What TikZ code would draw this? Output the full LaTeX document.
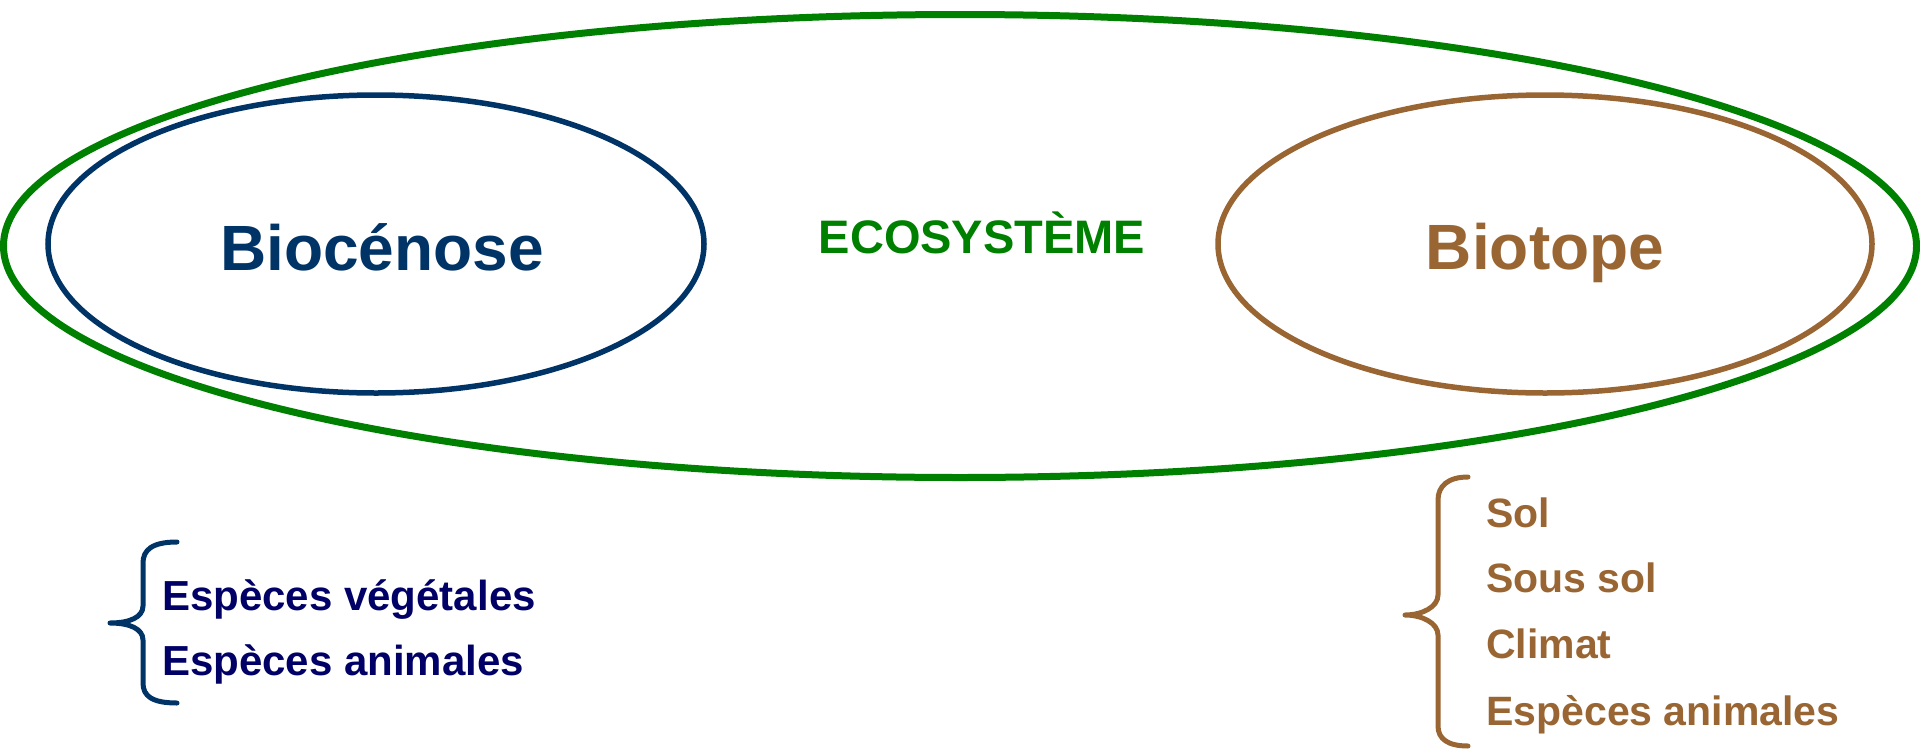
\documentclass[tikz,border=0pt]{standalone}
\usepackage{fontspec}
\setmainfont{Liberation Sans}
\usetikzlibrary{shapes.geometric}
\definecolor{ecogreen}{HTML}{008000}
\definecolor{bioblue}{HTML}{003366}
\definecolor{itemblue}{HTML}{000066}
\definecolor{biobrown}{HTML}{996633}

\begin{document}
\begin{tikzpicture}
      [x=1pt, y=-1pt,
       ring/.style={ellipse, draw, inner sep=0pt},
       title/.style={font=\bfseries\fontsize{64}{64}\selectfont, anchor=base, inner sep=0pt},
       item/.style={font=\bfseries\fontsize{42}{42}\selectfont, anchor=base west, inner sep=0pt},
       brace/.style={line width=5pt, line cap=round, line join=round}]
      \useasboundingbox (0,0) rectangle (1920,750);

      \node[ring, ecogreen, line width=7pt, minimum width=1913pt, minimum height=463pt] (eco) at (960,246) {};
      \node[ring, bioblue, line width=5.5pt, minimum width=656pt, minimum height=298pt] (bioc) at (376,244) {};
      \node[ring, biobrown, line width=5.5pt, minimum width=654pt, minimum height=298pt] (biot) at (1545,244) {};

      \node[title, bioblue] (tbioc) at (382,270) {Biocénose};
      \node[title, biobrown] (tbiot) at (1545,269) {Biotope};
      \node[title, ecogreen, font=\bfseries\fontsize{47}{47}\selectfont] (teco) at (982,253) {ECOSYSTÈME};

      % biocenose brace
      \coordinate (lb1) at (177,542);
      \coordinate (lb0) at (110,623);
      \coordinate (lb2) at (177,703);
      \draw[brace, bioblue] (lb1) .. controls (152,542) and (143,550) .. (143,563) -- (143,606)
        .. controls (143,617) and (130,623) .. (lb0) .. controls (130,623) and (143,629) .. (143,640)
        -- (143,683) .. controls (143,696) and (152,703) .. (lb2);
      \node[item, itemblue] (veg) at (162,610) {Espèces végétales};
      \node[item, itemblue] (ani) at (162,675) {Espèces animales};

      % biotope brace
      \coordinate (rb1) at (1468,477);
      \coordinate (rb0) at (1405,615);
      \coordinate (rb2) at (1468,746);
      \draw[brace, biobrown] (rb1) .. controls (1448,477) and (1438,486) .. (1438,500) -- (1438,595)
        .. controls (1438,607) and (1422,615) .. (rb0) .. controls (1422,615) and (1438,623) .. (1438,635)
        -- (1438,726) .. controls (1438,739) and (1448,746) .. (rb2);

      \foreach \name/\txt/\yy in {sol/Sol/527, sous/Sous sol/592, clim/Climat/658, anim/Espèces animales/725}
      \node[item, biobrown, font=\bfseries\fontsize{41}{41}\selectfont] (\name) at (1486,\yy) {\txt};
\end{tikzpicture}
\end{document}
